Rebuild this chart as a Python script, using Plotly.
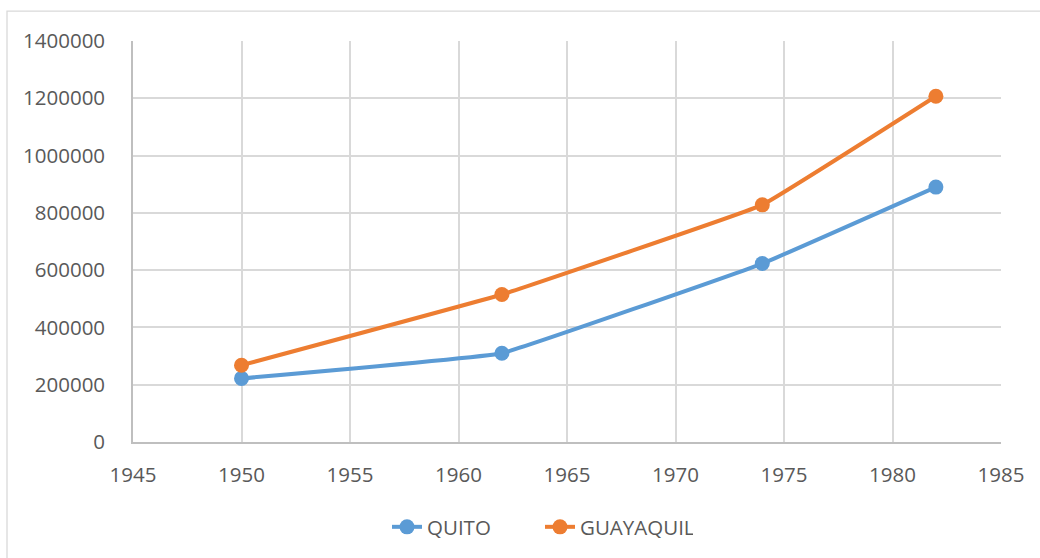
import plotly.graph_objects as go

years = [1950, 1962, 1974, 1982]
quito = [222000, 310000, 623000, 890000]
guayaquil = [268000, 515000, 828000, 1207000]
series_names = ["QUITO", "GUAYAQUIL"]
colors = ["#5B9BD5", "#ED7D31"]

W, H = 1040, 558
L, R, T, B = 133, 39, 41, 115
pw, ph = W - L - R, H - T - B

fig = go.Figure()
for name, vals, c in zip(series_names, [quito, guayaquil], colors):
    fig.add_trace(go.Scatter(
        x=years, y=vals, name=name, mode="lines+markers",
        line=dict(color=c, width=4, shape="spline", smoothing=0.2),
        marker=dict(color=c, size=15),
    ))

font = dict(family="Open Sans, Lato, sans-serif", size=20.5, color="#595959")

fig.update_layout(
    width=W, height=H,
    margin=dict(l=L, r=R, t=T, b=B),
    paper_bgcolor="white", plot_bgcolor="white",
    font=font,
    showlegend=True,
    legend=dict(orientation="h", x=(540 - L) / pw, xanchor="center",
                y=(443 - 527) / ph, yanchor="middle",
                font=font, entrywidth=108, entrywidthmode="pixels",
                traceorder="normal"),
    xaxis=dict(range=[1945, 1985], tick0=1945, dtick=5, showgrid=True,
               gridcolor="#d9d9d9", gridwidth=1.6, showline=True,
               linecolor="#bfbfbf", linewidth=1.6, zeroline=False,
               ticks="", ticklabelstandoff=14, mirror=False),
    yaxis=dict(range=[0, 1400000], tick0=0, dtick=200000, showgrid=True,
               gridcolor="#d9d9d9", gridwidth=1.6, showline=True,
               linecolor="#bfbfbf", linewidth=1.6, zeroline=False,
               ticks="", ticklabelstandoff=22, tickformat="d",
               separatethousands=False),
    shapes=[dict(type="rect", xref="paper", yref="paper",
                 x0=(7 - L) / pw, x1=(1041 - L) / pw,
                 y0=(443 - 560) / ph, y1=(443 - 11) / ph,
                 line=dict(color="#d9d9d9", width=1.3), layer="below")],
)

fig.write_html("out.html", config={"displayModeBar": False},
               post_script="document.body.style.margin='0';")
